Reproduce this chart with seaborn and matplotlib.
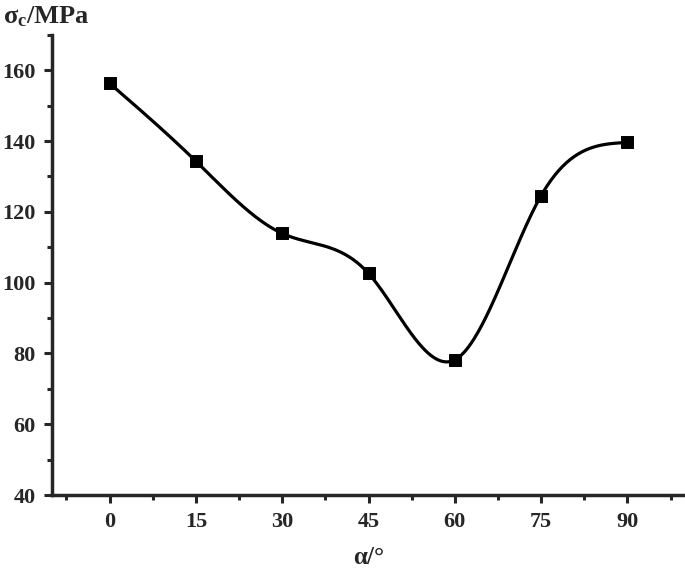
import numpy as np
import pandas as pd
import seaborn as sns
import matplotlib.pyplot as plt
from matplotlib.ticker import MultipleLocator

# angle alpha (deg) and compressive strength sigma_c (MPa)
angles = [0, 15, 30, 45, 60, 75, 90]
strength = [156.3, 134.3, 113.9, 102.6, 78.2, 124.6, 139.6]

df = pd.DataFrame({'alpha': angles, 'sigma': strength})


def natural_spline(x, y, xs):
    # natural cubic spline through the measured points (only used to draw the smooth line)
    x = np.asarray(x, float)
    y = np.asarray(y, float)
    n = len(x)
    h = np.diff(x)
    A = np.zeros((n, n))
    b = np.zeros(n)
    A[0, 0] = A[-1, -1] = 1
    for i in range(1, n - 1):
        A[i, i - 1] = h[i - 1]
        A[i, i] = 2 * (h[i - 1] + h[i])
        A[i, i + 1] = h[i]
        b[i] = 6 * ((y[i + 1] - y[i]) / h[i] - (y[i] - y[i - 1]) / h[i - 1])
    M = np.linalg.solve(A, b)
    idx = np.clip(np.searchsorted(x, xs) - 1, 0, n - 2)
    x0, x1 = x[idx], x[idx + 1]
    hh = x1 - x0
    t0, t1 = x1 - xs, xs - x0
    return (M[idx] * t0 ** 3 / (6 * hh) + M[idx + 1] * t1 ** 3 / (6 * hh)
            + (y[idx] / hh - M[idx] * hh / 6) * t0
            + (y[idx + 1] / hh - M[idx + 1] * hh / 6) * t1)


xs = np.linspace(angles[0], angles[-1], 400)
smooth = pd.DataFrame({'alpha': xs, 'sigma': natural_spline(angles, strength, xs)})

sns.set_style('ticks')
plt.rcParams['font.family'] = ['Liberation Serif', 'DejaVu Serif']
plt.rcParams['font.weight'] = 'bold'
plt.rcParams['mathtext.fontset'] = 'custom'
plt.rcParams['mathtext.rm'] = 'Liberation Serif:bold'
plt.rcParams['mathtext.it'] = 'Liberation Serif:bold'
plt.rcParams['mathtext.bf'] = 'Liberation Serif:bold'

fig = plt.figure(figsize=(6.85, 5.71), dpi=100)
ax = fig.add_axes([0.076, 0.133, 0.924, 0.806])

sns.lineplot(data=smooth, x='alpha', y='sigma', color='black', linewidth=2.3, ax=ax)
sns.scatterplot(data=df, x='alpha', y='sigma', marker='s', s=75, color='black',
                edgecolor='black', zorder=5, ax=ax)

ax.set_xlim(-10, 100)
ax.set_ylim(40, 170)
ax.set_xticks(angles)
ax.set_yticks([40, 60, 80, 100, 120, 140, 160])
ax.xaxis.set_minor_locator(MultipleLocator(7.5))
ax.yaxis.set_minor_locator(MultipleLocator(10))
ax.tick_params(axis='both', which='major', direction='out', length=6, width=2.2,
               labelsize=16, pad=6)
ax.tick_params(axis='both', which='minor', direction='out', length=3.5, width=2.2)
for lab in ax.get_xticklabels() + ax.get_yticklabels():
    lab.set_fontweight('bold')

sns.despine(ax=ax)
for side in ['left', 'bottom']:
    ax.spines[side].set_linewidth(2.5)

ax.set_xlabel('α/°', fontsize=18, fontweight='bold', labelpad=10)
ax.set_ylabel('')
fig.text(0.004, 0.992, r'σ$_\mathbf{c}$/MPa', fontsize=19, fontweight='bold',
         ha='left', va='top')

plt.savefig('out.png', dpi=100)
